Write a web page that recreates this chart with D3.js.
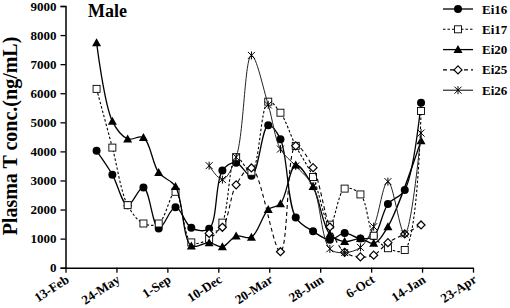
<!DOCTYPE html>
<html>
<head>
<meta charset="utf-8">
<script src="https://cdn.jsdelivr.net/npm/d3@7"></script>
<style>
  body { margin: 0; background: #fff; }
  text { font-family: 'Liberation Serif', 'Times New Roman', serif; font-weight: bold; }
</style>
</head>
<body>
<div id="chart-area"></div>
<script>
// sampling dates
const dates = ['2010-04-15', '2010-05-16', '2010-06-15', '2010-07-16', '2010-08-15',
  '2010-09-17', '2010-10-18', '2010-11-22', '2010-12-18', '2011-01-14', '2011-02-13',
  '2011-03-18', '2011-04-11', '2011-05-11', '2011-06-14', '2011-07-17', '2011-08-15',
  '2011-09-15', '2011-10-11', '2011-11-08', '2011-12-11', '2012-01-12'];

const ei16 = [4020, 3200, 2150, 2760, 1350, 2080, 1370, 1340, 3340, 3610, 3160,
  4900, 4420, 1730, 1250, 960, 1190, 1000, 1080, 2190, 2670, 5670];
const ei17 = [6150, 4130, 2150, 1520, 1520, 2610, 870, 990, 1550, 3800, 3300,
  5710, 5330, 4190, 3120, 1480, 2720, 2520, 1100, 670, 610, 5390];
const ei20 = [7740, 5040, 4430, 4480, 3270, 2790, 750, 860, 720, 1090, 1050,
  2000, 2200, 3530, 2790, 1150, 900, 1000, 840, 1410, null, 4370];
const ei25 = [null, null, null, null, null, null, null, 1180, 1390, 2850, 3430,
  null, 550, 4190, 3440, 1400, 530, 370, 430, 860, 1160, 1470];
const ei26 = [null, null, null, null, null, null, null, 3510, 3030, 3800, 7300,
  5600, 4080, 3500, 2800, 650, 520, 700, 1410, 2960, 1160, 4630];

const seriesNames = ['Ei16', 'Ei17', 'Ei20', 'Ei25', 'Ei26'];
const seriesValues = [ei16, ei17, ei20, ei25, ei26];

const xTickDates = ['2010-02-13', '2010-05-24', '2010-09-01', '2010-12-10', '2011-03-20',
  '2011-06-28', '2011-10-06', '2012-01-14', '2012-04-23'];
const yTicks = [0, 1000, 2000, 3000, 4000, 5000, 6000, 7000, 8000, 9000];

const parse = d3.timeParse('%Y-%m-%d');

const styles = {
  Ei16: { dash: null, marker: 'circle', width: 1.3 },
  Ei17: { dash: '2.5,2', marker: 'square', width: 1.1 },
  Ei20: { dash: null, marker: 'triangle', width: 1.3 },
  Ei25: { dash: '4,3', marker: 'diamond', width: 1.1 },
  Ei26: { dash: null, marker: 'star', width: 1 }
};

const svg = d3.select('#chart-area')
  .append('svg')
  .attr('width', 510)
  .attr('height', 308);

const x = d3.scaleTime()
  .domain([parse(xTickDates[0]), parse(xTickDates[xTickDates.length - 1])])
  .range([65.5, 473]);

const y = d3.scaleLinear()
  .domain([0, 9000])
  .range([267.7, 6]);

// Y axis
const yAxis = svg.append('g')
  .attr('transform', 'translate(65.5,0)')
  .call(d3.axisLeft(y).tickValues(yTicks).tickSize(5).tickPadding(4).tickFormat(d3.format('d')));
yAxis.select('.domain').attr('stroke-width', 1.5);
yAxis.selectAll('.tick line').attr('stroke-width', 1.3);
yAxis.selectAll('text').attr('font-size', '13px').attr('fill', '#000');

// X axis
const xAxis = svg.append('g')
  .attr('transform', 'translate(0,267.7)')
  .call(d3.axisBottom(x)
    .tickValues(xTickDates.map(parse))
    .tickSize(5)
    .tickSizeOuter(0)
    .tickFormat(d3.timeFormat('%-d-%b')));
xAxis.select('.domain').attr('stroke-width', 1.5);
xAxis.selectAll('.tick line').attr('stroke-width', 1.3);
xAxis.selectAll('text')
  .attr('font-size', '13px')
  .attr('fill', '#000')
  .attr('text-anchor', 'end')
  .attr('y', 0)
  .attr('dy', 0)
  .attr('transform', 'translate(4,14) rotate(-33)');

// Y label
svg.append('text')
  .attr('transform', 'translate(17,136) rotate(-90)')
  .attr('text-anchor', 'middle')
  .attr('font-size', '20px')
  .text('Plasma T conc.(ng/mL)');

// Title
svg.append('text')
  .attr('x', 88)
  .attr('y', 17)
  .attr('font-size', '18px')
  .text('Male');

const line = d3.line()
  .x((d) => x(d.date))
  .y((d) => y(d.value))
  .curve(d3.curveCatmullRom.alpha(0.5));

function drawMarker(g, type, cx, cy) {
  if (type === 'circle') {
    g.append('circle').attr('cx', cx).attr('cy', cy).attr('r', 4).attr('fill', '#000');
  } else if (type === 'square') {
    g.append('rect').attr('x', cx - 3.5).attr('y', cy - 3.5).attr('width', 7).attr('height', 7)
      .attr('fill', '#fff').attr('stroke', '#000').attr('stroke-width', 0.9);
  } else if (type === 'triangle') {
    g.append('path')
      .attr('d', 'M' + cx + ',' + (cy - 4.5) + 'L' + (cx + 4.5) + ',' + (cy + 3.5) + 'L' + (cx - 4.5) + ',' + (cy + 3.5) + 'Z')
      .attr('fill', '#000');
  } else if (type === 'diamond') {
    g.append('path')
      .attr('d', 'M' + cx + ',' + (cy - 4) + 'L' + (cx + 4) + ',' + cy + 'L' + cx + ',' + (cy + 4) + 'L' + (cx - 4) + ',' + cy + 'Z')
      .attr('fill', '#fff').attr('stroke', '#000').attr('stroke-width', 1.2);
  } else {
    g.append('path')
      .attr('d', 'M' + (cx - 3.5) + ',' + (cy - 3.5) + 'L' + (cx + 3.5) + ',' + (cy + 3.5) +
        'M' + (cx + 3.5) + ',' + (cy - 3.5) + 'L' + (cx - 3.5) + ',' + (cy + 3.5) +
        'M' + cx + ',' + (cy - 4) + 'L' + cx + ',' + (cy + 4))
      .attr('stroke', '#000').attr('stroke-width', 1).attr('fill', 'none');
  }
}

seriesNames.forEach((name, i) => {
  const st = styles[name];
  const pts = [];
  seriesValues[i].forEach((v, j) => {
    if (v !== null) pts.push({ date: parse(dates[j]), value: v });
  });
  const g = svg.append('g').attr('class', 'series ' + name);
  g.append('path')
    .datum(pts)
    .attr('d', line)
    .attr('fill', 'none')
    .attr('stroke', name === 'Ei26' ? '#222' : '#000')
    .attr('stroke-width', st.width)
    .attr('stroke-dasharray', st.dash);
  pts.forEach((p) => drawMarker(g, st.marker, x(p.date), y(p.value)));
});

// Legend
const legend = svg.append('g');
seriesNames.forEach((name, i) => {
  const st = styles[name];
  const ly = 9 + i * 20.3;
  legend.append('line')
    .attr('x1', 443).attr('x2', 473).attr('y1', ly).attr('y2', ly)
    .attr('stroke', '#000').attr('stroke-width', st.width)
    .attr('stroke-dasharray', st.dash);
  drawMarker(legend, st.marker, 458, ly);
  legend.append('text')
    .attr('x', 482).attr('y', ly + 4.5)
    .attr('font-size', '13px')
    .text(name);
});
</script>
</body>
</html>
